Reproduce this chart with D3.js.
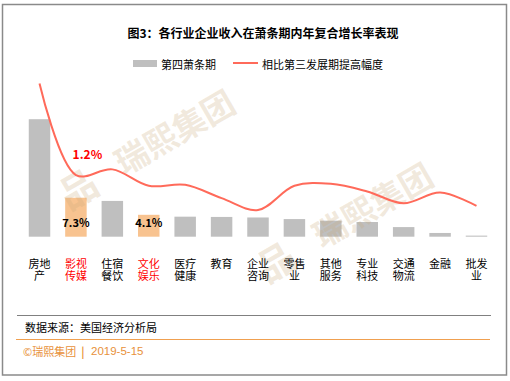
<!DOCTYPE html>
<html>
<head>
<meta charset="utf-8">
<script src="https://cdn.jsdelivr.net/npm/d3@7"></script>
<style>
  html, body { margin: 0; padding: 0; background: #fff; }
  #wrap { position: relative; width: 510px; height: 381px; }
  svg { display: block; font-family: "Noto Sans CJK SC", "Microsoft YaHei", sans-serif; }
  .cat { position: absolute; width: 40px; text-align: center; font-family: "Noto Sans CJK SC", sans-serif;
         font-size: 11px; line-height: 12.5px; white-space: pre-line; }
</style>
</head>
<body>
<div id="wrap"><svg id="chart" width="510" height="381"></svg></div>
<script>
const categories = ["房地产","影视传媒","住宿餐饮","文化娱乐","医疗健康","教育","企业咨询","零售业","其他服务","专业科技","交通物流","金融","批发业"];
const labelLines = [["房地","产"],["影视","传媒"],["住宿","餐饮"],["文化","娱乐"],["医疗","健康"],["教育"],["企业","咨询"],["零售","业"],["其他","服务"],["专业","科技"],["交通","物流"],["金融"],["批发","业"]];
const recessionCAGR = [22.0, 7.3, 6.7, 4.1, 3.75, 3.7, 3.6, 3.3, 3.0, 2.75, 1.8, 0.7, 0.2];
const improvement = [2.98, 1.2, 1.31, 0.99, 1.01, 0.75, 0.52, 0.99, 1.03, 0.88, 0.65, 0.86, 0.60];
const highlighted = ["影视传媒","文化娱乐"];
const barLabels = {"影视传媒": "7.3%", "文化娱乐": "4.1%"};
const lineLabels = {"影视传媒": "1.2%"};
const title = "图3：各行业企业收入在萧条期内年复合增长率表现";
const legendItems = ["第四萧条期","相比第三发展期提高幅度"];
const sourceText = "数据来源：美国经济分析局";
const footerBrand = "©瑞熙集团";
const footerDate = "2019-5-15";

const svg = d3.select("#chart");

// frame
svg.append("rect").attr("x",2.5).attr("y",4.5).attr("width",504).attr("height",370.5)
  .attr("fill","#fff").attr("stroke","#8a8a8a").attr("stroke-width",1.5);

// title
svg.append("text").attr("x",263).attr("y",32).attr("text-anchor","middle")
  .attr("dominant-baseline","central").attr("font-size",12).attr("font-weight","bold")
  .attr("fill","#000").text(title);

// legend
svg.append("rect").attr("x",133).attr("y",60).attr("width",24).attr("height",7).attr("fill","#BFBFBF");
svg.append("text").attr("x",161).attr("y",63.5).attr("dominant-baseline","central")
  .attr("font-size",11).attr("fill","#000").text(legendItems[0]);
svg.append("line").attr("x1",233).attr("x2",258).attr("y1",63).attr("y2",63)
  .attr("stroke","#FF6A5A").attr("stroke-width",2);
svg.append("text").attr("x",262).attr("y",63.5).attr("dominant-baseline","central")
  .attr("font-size",11).attr("fill","#000").text(legendItems[1]);

// scales
const x = d3.scaleBand().domain(categories).range([21.3, 494.7]).paddingInner(0.41).paddingOuter(0.205);
const y = d3.scaleLinear().domain([0, 30]).range([236.7, 76.5]);
const y2 = d3.scaleLinear().domain([0, 3]).range([236.7, 82.5]);

// bars
svg.append("g").selectAll("rect").data(categories).join("rect")
  .attr("x", d => x(d))
  .attr("width", x.bandwidth())
  .attr("y", (d,i) => y(recessionCAGR[i]))
  .attr("height", (d,i) => y(0) - y(recessionCAGR[i]))
  .attr("fill", d => highlighted.includes(d) ? "#F8C390" : "#BFBFBF");

// watermarks
function watermark(cx, cy) {
  const g = svg.append("g").attr("transform", `translate(${cx},${cy}) rotate(-30)`)
    .attr("fill", "#C8A878").attr("fill-opacity", 0.25).attr("font-weight", "bold");
  g.append("text").attr("x",0).attr("y",0).attr("text-anchor","middle")
    .attr("dominant-baseline","central").attr("font-size",38).text("品");
  g.append("text").attr("x",46).attr("y",0).attr("text-anchor","start")
    .attr("dominant-baseline","central").attr("font-size",33).text("瑞熙集团");
}
watermark(77, 187);
watermark(275, 260);

// line
const line = d3.line()
  .x((d,i) => x(categories[i]) + x.bandwidth()/2)
  .y(d => y2(d))
  .curve(d3.curveCatmullRom.alpha(0.5));
svg.append("path").datum(improvement).attr("d", line)
  .attr("fill","none").attr("stroke","#FF6A5A").attr("stroke-width",2);

// bar labels
categories.forEach((c,i) => {
  if (barLabels[c]) {
    svg.append("text").attr("x", x(c) + x.bandwidth()/2).attr("y", y(0) - 14.5)
      .attr("text-anchor","middle").attr("dominant-baseline","central")
      .attr("font-size",11).attr("font-weight","bold").attr("fill","#000").text(barLabels[c]);
  }
  if (lineLabels[c]) {
    svg.append("text").attr("x", x(c) + x.bandwidth()/2 + 11.5).attr("y", y2(improvement[i]) - 22)
      .attr("text-anchor","middle").attr("dominant-baseline","central")
      .attr("font-size",12).attr("font-weight","bold").attr("fill","#FF0000").text(lineLabels[c]);
  }
});

// category labels (HTML, one text node with a line break)
const wrap = d3.select("#wrap");
categories.forEach((c,i) => {
  const cx = x(c) + x.bandwidth()/2;
  wrap.append("div").attr("class","cat")
    .style("left", (cx - 20) + "px").style("top", "256.75px")
    .style("color", highlighted.includes(c) ? "#FF0000" : "#000")
    .text(labelLines[i].join("\n"));
});

// footer
svg.append("line").attr("x1",17).attr("x2",491).attr("y1",315.5).attr("y2",315.5)
  .attr("stroke","#808080").attr("stroke-width",1);
svg.append("text").attr("x",25).attr("y",327).attr("dominant-baseline","central")
  .attr("font-size",11).attr("fill","#000").text(sourceText);
svg.append("line").attr("x1",16).attr("x2",490).attr("y1",339.5).attr("y2",339.5)
  .attr("stroke","#F0A050").attr("stroke-width",1);
svg.append("text").attr("x",23).attr("y",351).attr("dominant-baseline","central")
  .attr("font-size",11).attr("fill","#E8913A").text(footerBrand);
svg.append("text").attr("x",83).attr("y",351).attr("dominant-baseline","central")
  .attr("text-anchor","middle").attr("font-size",11).attr("font-weight","bold")
  .attr("fill","#E8913A").text("|");
svg.append("text").attr("x",91).attr("y",351).attr("dominant-baseline","central")
  .attr("font-family","Liberation Sans, Arial, sans-serif").attr("font-size",11.5)
  .attr("fill","#E8913A").text(footerDate);
</script>
</body>
</html>
